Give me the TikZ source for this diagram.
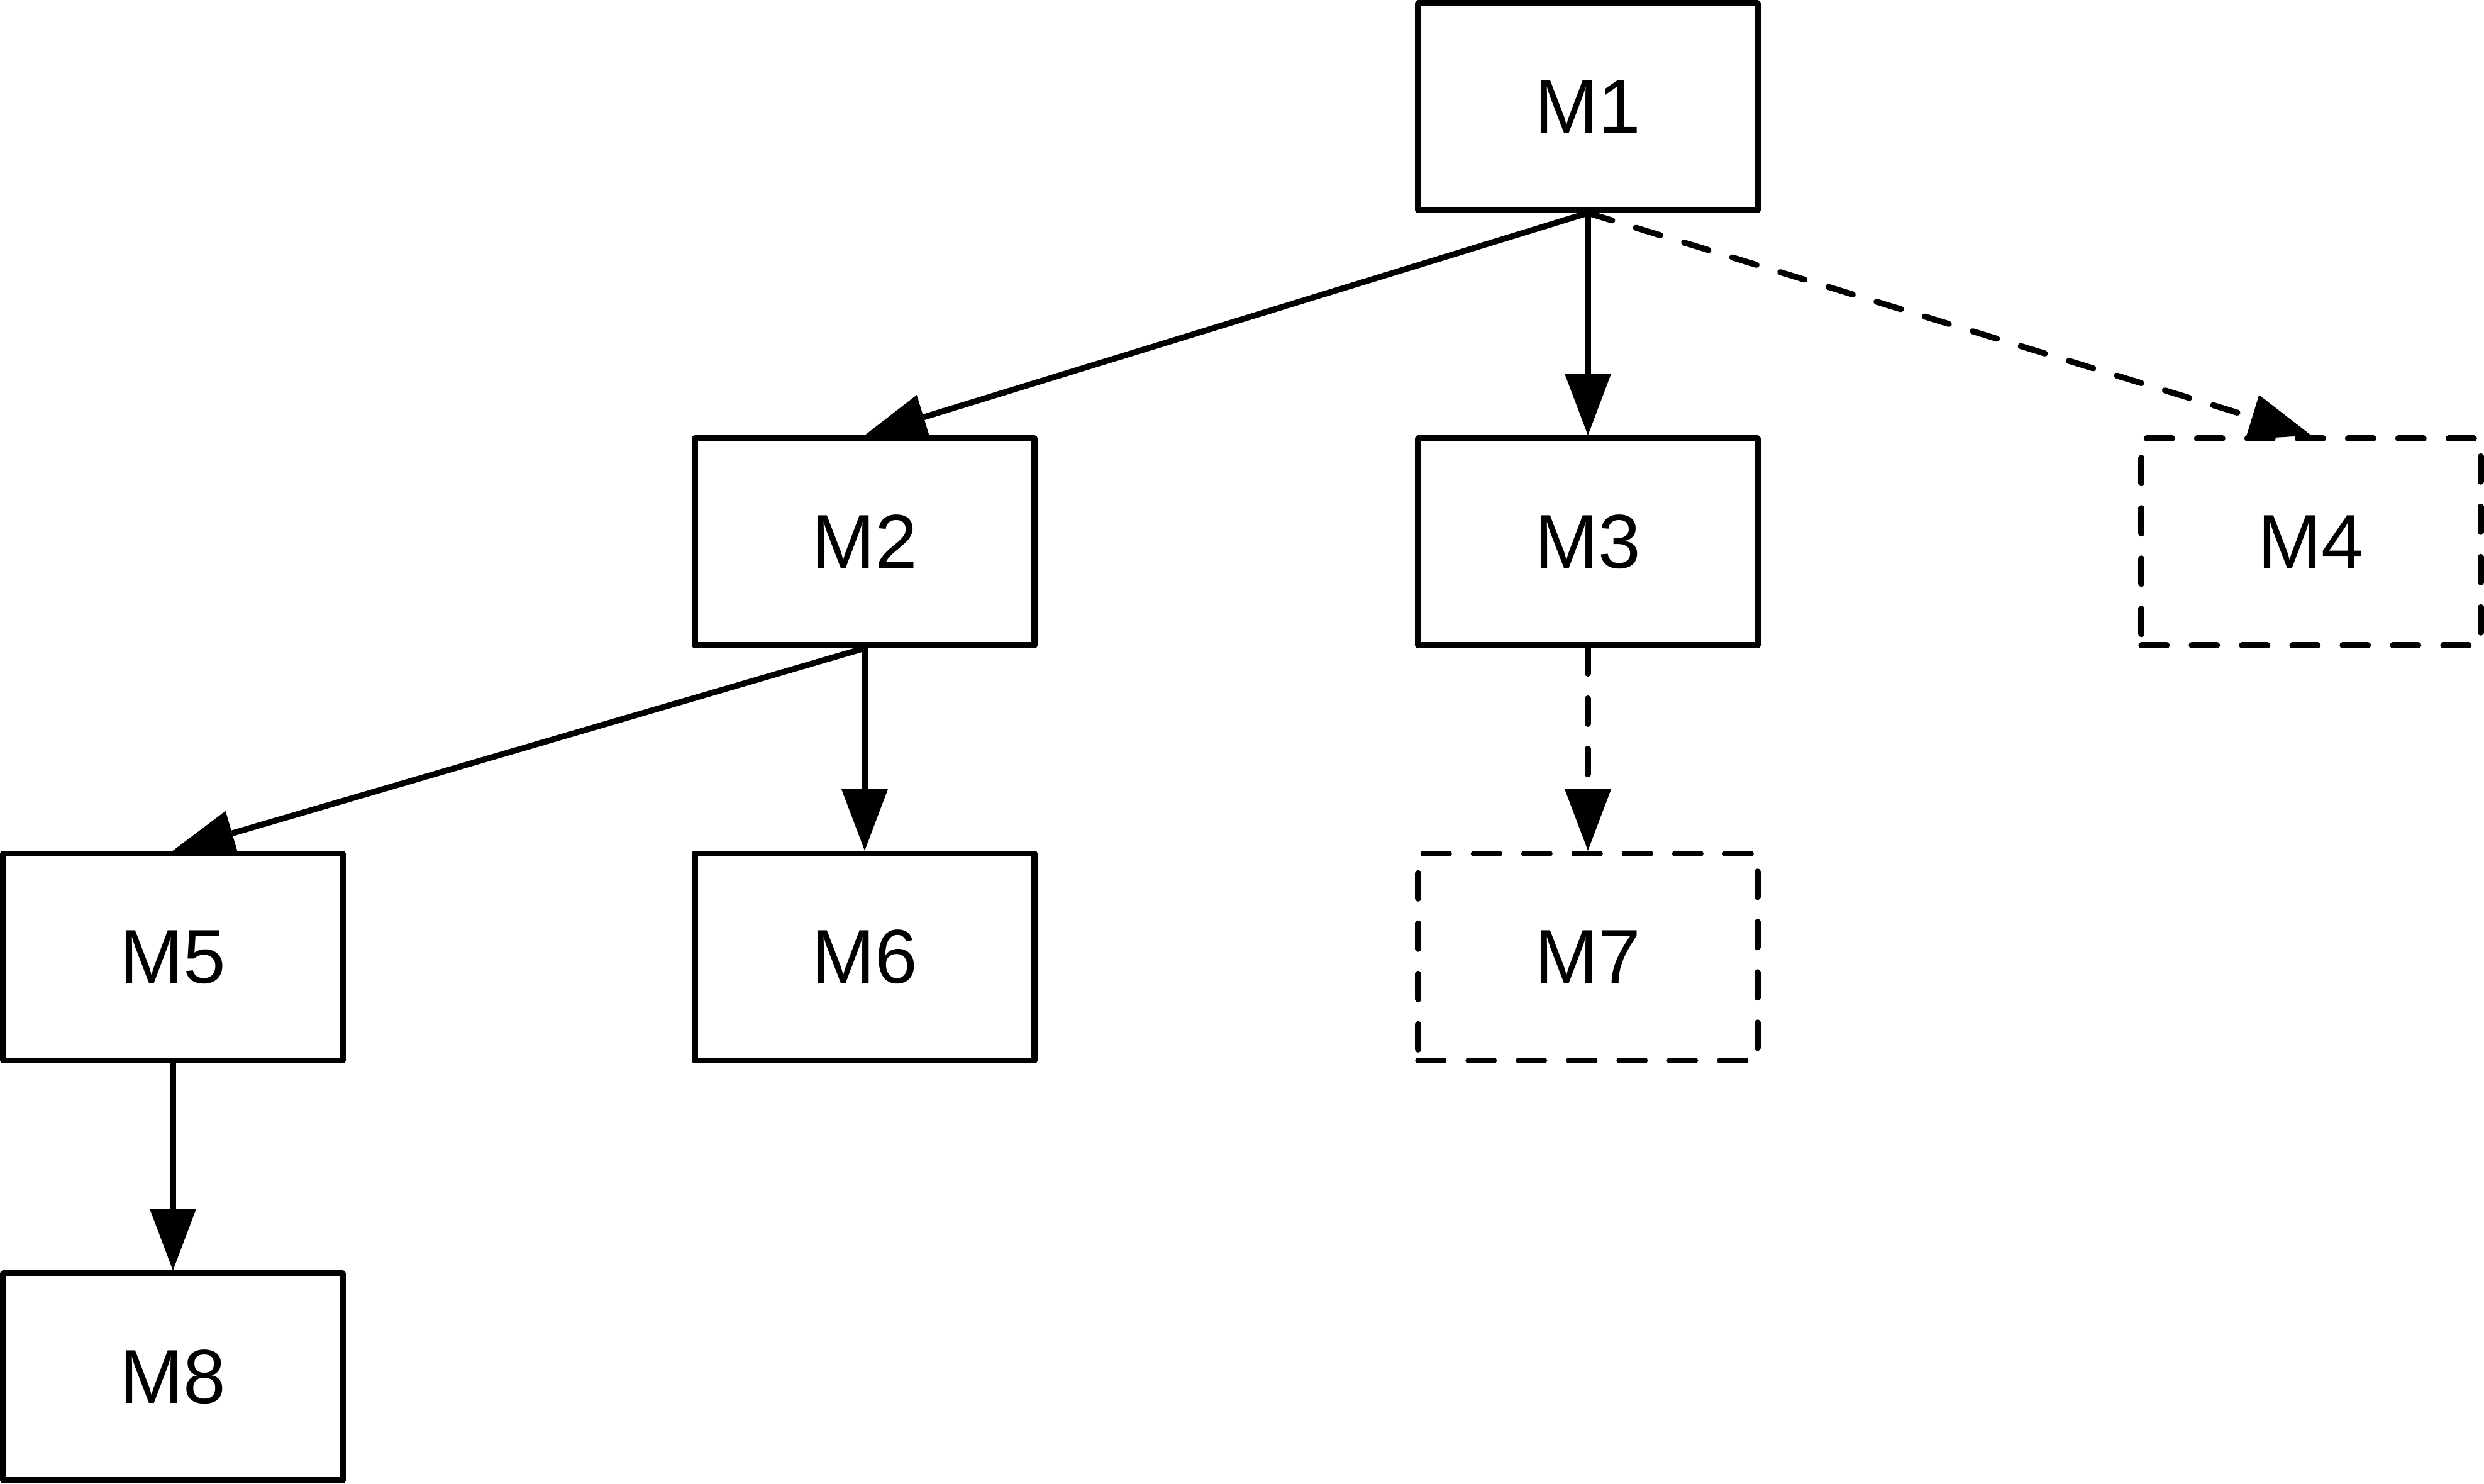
\documentclass[tikz,border=0pt]{standalone}
\usepackage{fontspec}
\setmainfont{Liberation Sans}
\usetikzlibrary{arrows.meta}
\begin{document}
\begin{tikzpicture}[
  box/.style={draw, line width=0.95pt, line join=round, minimum width=54pt,
    minimum height=32.9pt, inner sep=0pt, font=\fontsize{12.15pt}{14pt}\selectfont},
  dashbox/.style={box, dash pattern=on 4.05pt off 3.95pt, line cap=round},
  conn/.style={line width=0.95pt, -{Triangle[length=9.8pt,width=7.4pt,line width=0pt]}},
  dconn/.style={conn, dash pattern=on 4.05pt off 3.95pt, line cap=round}
]
\useasboundingbox (0,0) rectangle (395pt,-235.9pt);
\node[box] (m1) at (252.5pt,-16.95pt) {M1};
\node[box] (m2) at (137.5pt,-86.15pt) {M2};
\node[box] (m3) at (252.5pt,-86.15pt) {M3};
\node[dashbox] (m4) at (367.5pt,-86.15pt) {M4};
\node[box] (m5) at (27.5pt,-152.2pt) {M5};
\node[box] (m6) at (137.5pt,-152.2pt) {M6};
\node[dashbox] (m7) at (252.5pt,-152.2pt) {M7};
\node[box] (m8) at (27.5pt,-218.95pt) {M8};
\draw[conn] (m1.south) -- (m2.north);
\draw[conn] (m1.south) -- (m3.north);
\draw[dconn] (m1.south) -- (m4.north);
\draw[conn] (m2.south) -- (m5.north);
\draw[conn] (m2.south) -- (m6.north);
\draw[dconn] (m3.south) -- (m7.north);
\draw[conn] (m5.south) -- (m8.north);
\end{tikzpicture}
\end{document}
